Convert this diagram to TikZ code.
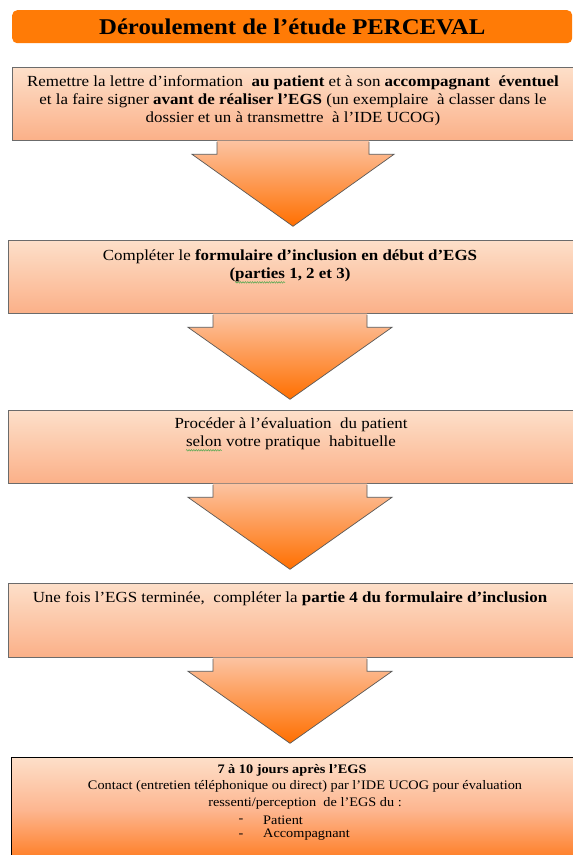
\documentclass[tikz,border=0pt]{standalone}
\usepackage{fontspec}
\setmainfont{Liberation Serif}[FakeStretch=1.1]
\usetikzlibrary{calc,decorations.pathmorphing}
\definecolor{titleorange}{HTML}{FF7B06}
\definecolor{boxtop}{HTML}{FDDFC9}
\definecolor{boxbot}{HTML}{FBB088}
\definecolor{boxline}{HTML}{6B6B6B}
\definecolor{arrtop}{HTML}{FCC3A2}
\definecolor{arrbot}{HTML}{FF6F00}
\definecolor{lastmid}{HTML}{FDB690}
\definecolor{lastbot}{HTML}{FF7A1E}
\definecolor{spell}{HTML}{4CA64C}
\pgfdeclareverticalshading{lastshade}{100bp}{color(0bp)=(lastbot); color(25bp)=(lastbot); color(50bp)=(lastmid); color(75bp)=(boxtop); color(100bp)=(boxtop)}
\newsavebox\wavebox
\newcommand\spellwave[1]{\sbox\wavebox{#1}%
  \rlap{\tikz[baseline=0pt,x=1pt,y=1pt]{\path[use as bounding box] (0,0);
    \draw[spell,line width=0.45pt,decorate,decoration={zigzag,segment length=2.4pt,amplitude=0.8pt}] (0,-3.6) -- (\the\wd\wavebox,-3.6);}}#1}
\newcommand\xsp{\hspace{0.28em}}
\newcommand\flowarrow[5]{%
  \coordinate (#5) at (#2,0 |- #1.south);
  \path[arrowfill] ($(#5)+(-#3,-0.8)$) -- ($(#5)+(-#3,13)$) -- ($(#5)+(-#4,13)$) -- ($(#5)+(0,85)$) -- ($(#5)+(#4,13)$) -- ($(#5)+(#3,13)$) -- ($(#5)+(#3,-0.8)$) -- cycle;
  \draw[arrowline] ($(#5)+(-#3,0.6)$) -- ($(#5)+(-#3,13)$) -- ($(#5)+(-#4,13)$) -- ($(#5)+(0,85)$) -- ($(#5)+(#4,13)$) -- ($(#5)+(#3,13)$) -- ($(#5)+(#3,0.6)$);
}
\tikzset{
  stepbox/.style={draw=boxline, line width=1.3pt, top color=boxtop, bottom color=boxbot,
    anchor=north west, inner sep=0pt, minimum width=572pt},
  lastbox/.style={draw=black, line width=0.8pt, shading=lastshade,
    anchor=north west, inner sep=0pt, minimum width=572pt, minimum height=105pt},
  titlebar/.style={fill=titleorange, rounded corners=5pt, anchor=north west, inner sep=0pt,
    minimum width=560pt, minimum height=33pt, font=\fontsize{22.5}{26}\selectfont\bfseries},
  arrowfill/.style={top color=arrtop, bottom color=arrbot},
  arrowline/.style={draw=black!65, line width=0.7pt, line join=miter},
  boxtext/.style={align=center, inner sep=0pt, font=\fontsize{15.4}{18}\selectfont},
  smalltext/.style={inner sep=0pt, font=\fontsize{13}{16.5}\selectfont},
}
\begin{document}
\begin{tikzpicture}[x=1pt,y=-1pt]
\useasboundingbox (0,0) rectangle (573,855);
\clip (0,0) rectangle (573,855);
\fill[white] (0,0) rectangle (573,855);

\node[titlebar] (title) at (12,10) {Déroulement de l’étude PERCEVAL};

\node[stepbox, minimum height=73pt] (b1) at (12,67) {};
\node[stepbox, minimum height=73pt] (b2) at (8,240) {};
\node[stepbox, minimum height=73pt] (b3) at (8,410) {};
\node[stepbox, minimum height=74pt] (b4) at (8,583) {};
\node[lastbox] (b5) at (11,757) {};

\flowarrow{b1}{293}{76}{101}{a1}
\flowarrow{b2}{290}{77}{102}{a2}
\flowarrow{b3}{290}{77}{102}{a3}
\flowarrow{b4}{290}{77}{102}{a4}

\node[boxtext] (t1) at (293,101) {Remettre la lettre d{\char"0027}information\xsp{} \textbf{au patient} et à son \textbf{accompagnant}\xsp{} \textbf{éventuel}\\
et la faire signer \textbf{avant de réaliser l’EGS} (un exemplaire\xsp{} à classer dans le\\
dossier et un à transmettre\xsp{} à l’IDE UCOG)};

\node[boxtext] (t2) at (290,266) {Compléter le \textbf{formulaire d’inclusion en début d’EGS}\\
\textbf{(\spellwave{parties} 1, 2 et 3)}};

\node[boxtext] (t3) at (291,434) {Procéder à l’évaluation\xsp{} du patient\\
\spellwave{selon} votre pratique\xsp{} habituelle};

\node[boxtext] (t4) at (290,599) {Une fois l’EGS terminée,\xsp{} compléter la \textbf{partie 4 du formulaire d’inclusion}};

\node[smalltext, font=\fontsize{13}{16.5}\selectfont\bfseries] (t5a) at (292,770) {7 à 10 jours après l’EGS};
\node[smalltext, align=center] (t5b) at (305,795) {Contact (entretien téléphonique ou direct) par l’IDE UCOG pour évaluation\\
ressenti/perception\xsp{} de l’EGS du :};
\node[smalltext] (d1) at (241,821) {-};
\node[smalltext, anchor=west] (l1) at (263,820) {Patient};
\node[smalltext] (d2) at (241,836) {-};
\node[smalltext, anchor=west] (l2) at (263,835) {Accompagnant};
\end{tikzpicture}
\end{document}
